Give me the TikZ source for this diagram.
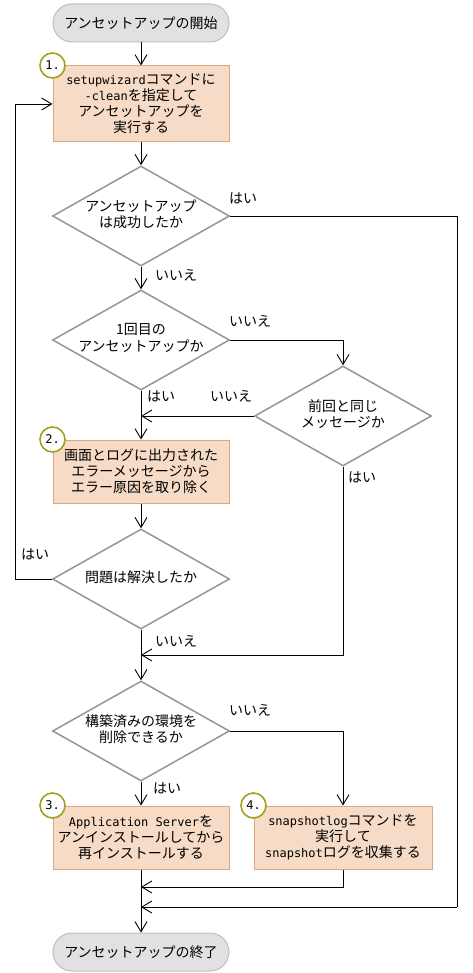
\documentclass[tikz,border=0pt]{standalone}
\usepackage{fontspec}
\setmainfont{Noto Sans CJK JP}
\newfontfamily\mono{DejaVu Sans Mono}
\usetikzlibrary{shapes.geometric,arrows.meta}
\definecolor{boxfill}{RGB}{246,220,198}
\definecolor{boxline}{RGB}{218,168,128}
\definecolor{termfill}{RGB}{225,225,225}
\definecolor{termline}{RGB}{190,190,190}
\definecolor{dialine}{RGB}{150,150,150}
\definecolor{olive}{RGB}{160,160,30}
\newcommand\dtxt[1]{\makebox[0pt]{\begin{tabular}{@{}c@{}}#1\end{tabular}}}
\newcommand\lt[1]{{\mono\fontsize{12}{16}\selectfont #1}}
\tikzset{
  base/.style={font=\fontsize{14}{16}\selectfont},
  term/.style={base, draw=termline, fill=termfill, line width=1pt, rounded corners=19pt,
    minimum width=176pt, minimum height=38pt, inner sep=0pt},
  procbox/.style={base, draw=boxline, fill=boxfill, line width=1pt,
    minimum width=176pt, minimum height=63pt, inner sep=0pt, align=center},
  dia/.style={base, diamond, draw=dialine, fill=white, line width=1.5pt, aspect=1.77,
    minimum width=177pt, minimum height=100pt, inner sep=0pt},
  numc/.style={circle, draw=olive, fill=white, line width=1.6pt, minimum size=25pt,
    inner sep=0pt, font=\mono\fontsize{12}{12}\selectfont},
  lab/.style={base, inner sep=0pt},
  arr/.style={draw=black, line width=0.9pt, -{Straight Barb[length=10pt,width=12pt,line width=0.9pt]}},
  ln/.style={draw=black, line width=0.9pt}
}
\begin{document}
\begin{tikzpicture}[x=1pt,y=-1pt]
\useasboundingbox (0,0) rectangle (472,973);
% nodes
\node[term] (s) at (141,23) {アンセットアップの開始};
\node[procbox, minimum height=76pt] (b1) at (141,104) {\lt{setupwizard}コマンドに\\\lt{-clean}を指定して\\アンセットアップを\\実行する};
\node[dia] (d1) at (141,216) {\dtxt{アンセットアップ\\は成功したか}};
\node[dia] (d2) at (141,340) {\dtxt{1回目の\\アンセットアップか}};
\node[dia] (d3) at (343,416) {\dtxt{前回と同じ\\メッセージか}};
\node[procbox] (b2) at (141,471.5) {画面とログに出力された\\エラーメッセージから\\エラー原因を取り除く};
\node[dia] (d4) at (141,579) {\dtxt{問題は解決したか}};
\node[dia] (d5) at (141,731) {\dtxt{構築済みの環境を\\削除できるか}};
\node[procbox] (b3) at (141,837.5) {\lt{Application Server}を\\アンインストールしてから\\再インストールする};
\node[procbox, minimum width=178pt] (b4) at (343,837.5) {\lt{snapshotlog}コマンドを\\実行して\\\lt{snapshot}ログを収集する};
\node[term] (e) at (141,952) {アンセットアップの終了};
% number circles
\node[numc] (n1) at (b1.north west) {1.};
\node[numc] (n2) at (b2.north west) {2.};
\node[numc] (n3) at (b3.north west) {3.};
\node[numc] (n4) at (b4.north west) {4.};
% junction coordinates
\coordinate (r1) at (457,216);
\coordinate (r2) at (457,907);
\coordinate (j2) at (141,907);
\coordinate (j4) at (141,887);
\coordinate (j3) at (141,655);
\coordinate (j1) at (141,416);
\coordinate (lp) at (15,579);
% connectors
\draw[arr] (s) -- (b1);
\draw[arr] (b1) -- (d1);
\draw[arr] (d1) -- (d2);
\draw[arr] (d2.east) -| (d3.north);
\draw[arr] (d3.west) -- (j1);
\draw[arr] (d2) -- (b2);
\draw[arr] (b2) -- (d4);
\draw[arr] (d4.west) -- (lp) |- (b1.west);
\draw[arr] (d3.south) |- (j3);
\draw[arr] (d4) -- (d5);
\draw[arr] (d5.east) -| (b4.north);
\draw[arr] (d5) -- (b3);
\draw[arr] (b4.south) |- (j4);
\draw[ln] (d1.east) -- (r1) -- (r2);
\draw[arr] (r2) -- (j2);
\draw[arr] (b3) -- (e);
% labels
\node[lab] (l1) at (243,198) {はい};
\node[lab] (l2) at (176,275) {いいえ};
\node[lab] (l3) at (250,321) {いいえ};
\node[lab] (l4) at (161,396) {はい};
\node[lab] (l5) at (231,396) {いいえ};
\node[lab] (l6) at (362,477) {はい};
\node[lab] (l7) at (35,554) {はい};
\node[lab] (l8) at (176,641) {いいえ};
\node[lab] (l9) at (250,710) {いいえ};
\node[lab] (l10) at (167,788) {はい};
\end{tikzpicture}
\end{document}
